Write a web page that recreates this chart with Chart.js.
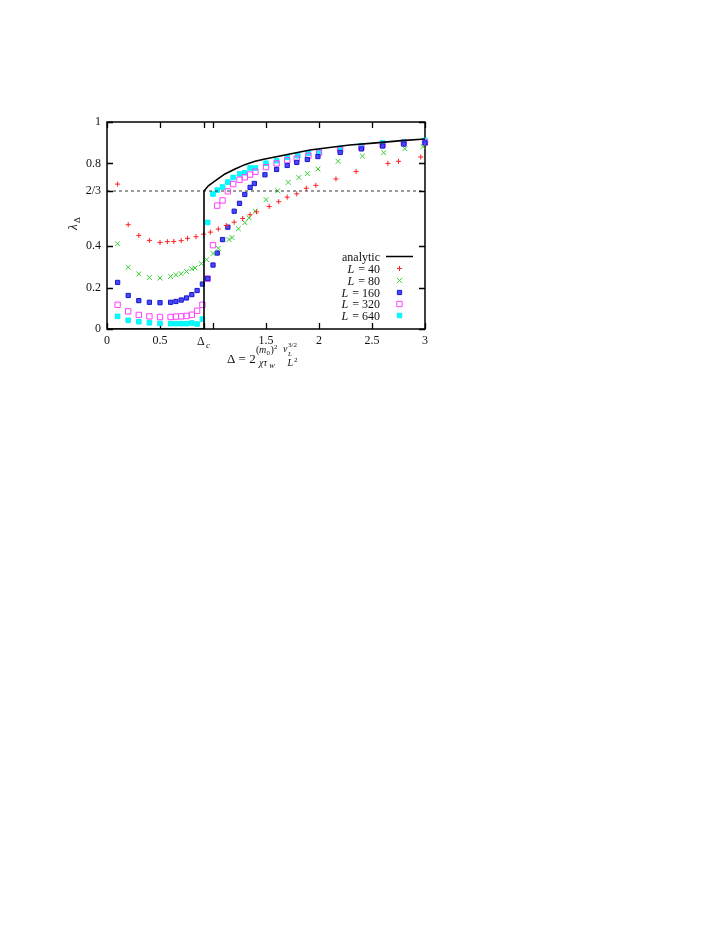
<!DOCTYPE html>
<html lang="en">
<head>
    <meta charset="UTF-8">
    <title>lambda vs Delta</title>
    <script src="https://cdn.jsdelivr.net/npm/chart.js"></script>
    <style>
        body { margin: 0; background: #fff; }
        canvas { display: block; }
    </style>
</head>
<body>
    <canvas id="grafico" width="723" height="935"></canvas>

<script>
    // valores
    const deltaC = 0.915;

    const xAnalytic = [0, 0.915, 0.915, 0.956, 1.02, 1.113, 1.208, 1.3, 1.396, 1.49, 1.585, 1.726, 1.915, 2.1, 2.29, 2.51, 2.78, 3.0];
    const yAnalytic = [0, 0, 0.667, 0.692, 0.716, 0.749, 0.773, 0.794, 0.81, 0.821, 0.831, 0.845, 0.865, 0.877, 0.889, 0.898, 0.91, 0.918];

    const x40 = [0.1, 0.2, 0.3, 0.4, 0.5, 0.57, 0.63, 0.7, 0.76, 0.84, 0.91, 0.975, 1.05, 1.125, 1.2, 1.28, 1.35, 1.41, 1.53, 1.62, 1.7, 1.79, 1.88, 1.97, 2.16, 2.35, 2.65, 2.75, 2.96];
    const y40 = [0.70, 0.504, 0.452, 0.428, 0.418, 0.422, 0.423, 0.427, 0.438, 0.446, 0.458, 0.468, 0.483, 0.50, 0.516, 0.534, 0.552, 0.566, 0.592, 0.615, 0.637, 0.653, 0.68, 0.694, 0.725, 0.761, 0.80, 0.81, 0.831];

    const x80 = [0.1, 0.2, 0.3, 0.4, 0.5, 0.6, 0.65, 0.7, 0.75, 0.8, 0.83, 0.89, 0.94, 1.0, 1.05, 1.15, 1.18, 1.24, 1.3, 1.34, 1.4, 1.5, 1.61, 1.71, 1.81, 1.89, 1.99, 2.18, 2.41, 2.61, 2.81, 2.98];
    const y80 = [0.412, 0.298, 0.266, 0.249, 0.246, 0.254, 0.262, 0.267, 0.278, 0.291, 0.295, 0.316, 0.335, 0.365, 0.39, 0.432, 0.442, 0.484, 0.514, 0.537, 0.569, 0.625, 0.668, 0.708, 0.732, 0.751, 0.773, 0.81, 0.835, 0.852, 0.871, 0.881];

    const x160 = [0.1, 0.2, 0.3, 0.4, 0.5, 0.6, 0.65, 0.7, 0.75, 0.8, 0.85, 0.9, 0.95, 1.0, 1.04, 1.09, 1.14, 1.2, 1.25, 1.3, 1.35, 1.39, 1.49, 1.6, 1.7, 1.79, 1.89, 1.99, 2.2, 2.4, 2.6, 2.8, 3.0];
    const y160 = [0.225, 0.162, 0.137, 0.129, 0.127, 0.129, 0.133, 0.14, 0.15, 0.166, 0.186, 0.217, 0.244, 0.309, 0.367, 0.432, 0.492, 0.569, 0.607, 0.65, 0.684, 0.703, 0.745, 0.771, 0.79, 0.805, 0.819, 0.833, 0.853, 0.87, 0.884, 0.893, 0.899];

    const x320 = [0.1, 0.2, 0.3, 0.4, 0.5, 0.6, 0.65, 0.7, 0.75, 0.8, 0.85, 0.9, 0.95, 1.0, 1.04, 1.09, 1.14, 1.19, 1.25, 1.3, 1.35, 1.4, 1.5, 1.6, 1.7, 1.79, 1.9, 2.0, 2.2, 2.4, 2.6, 2.8, 3.0];
    const y320 = [0.117, 0.085, 0.068, 0.061, 0.058, 0.058, 0.06, 0.061, 0.063, 0.069, 0.088, 0.117, 0.243, 0.405, 0.596, 0.621, 0.665, 0.70, 0.721, 0.733, 0.746, 0.76, 0.782, 0.80, 0.815, 0.823, 0.837, 0.852, 0.866, 0.877, 0.889, 0.90, 0.901];

    const x640 = [0.1, 0.2, 0.3, 0.4, 0.5, 0.6, 0.65, 0.7, 0.75, 0.8, 0.85, 0.9, 0.95, 1.0, 1.04, 1.09, 1.14, 1.19, 1.25, 1.3, 1.35, 1.4, 1.5, 1.6, 1.7, 1.8, 1.9, 2.0, 2.2, 2.4, 2.6, 2.8, 3.0];
    const y640 = [0.061, 0.042, 0.035, 0.03, 0.027, 0.026, 0.026, 0.026, 0.026, 0.029, 0.024, 0.048, 0.515, 0.652, 0.671, 0.686, 0.71, 0.732, 0.749, 0.755, 0.778, 0.778, 0.801, 0.813, 0.829, 0.837, 0.85, 0.857, 0.873, 0.886, 0.899, 0.905, 0.911];

    const xRef = [0, 3];
    const yRef = [2 / 3, 2 / 3];

    const xTicks = [0, 0.5, deltaC, 1, 1.5, 2, 2.5, 3];
    const xTickLabels = ['0', '0.5', '', '', '1.5', '2', '2.5', '3'];
    const yTicks = [0, 0.2, 0.4, 2 / 3, 0.8, 1];
    const yTickLabels = ['0', '0.2', '0.4', '2/3', '0.8', '1'];

    const legendLabels = ['40', '80', '160', '320', '640'];

    function pontos(xs, ys) {
        return xs.map((x, i) => ({ x: x, y: ys[i] }));
    }

    const fonte = '"Liberation Serif", "DejaVu Serif", serif';

    const series = [
        { data: pontos(x40, y40), pointStyle: 'cross', pointRadius: 2.5, borderColor: '#ff2020', backgroundColor: '#ff2020', pointBorderWidth: 1 },
        { data: pontos(x80, y80), pointStyle: 'crossRot', pointRadius: 3.4, borderColor: '#30d030', backgroundColor: '#30d030', pointBorderWidth: 1 },
        { data: pontos(x160, y160), pointStyle: 'rect', pointRadius: 3, borderColor: '#1818c8', backgroundColor: '#4848ff', pointBorderWidth: 1 },
        { data: pontos(x320, y320), pointStyle: 'rect', pointRadius: 3.8, borderColor: '#ff40ff', backgroundColor: 'rgba(0,0,0,0)', pointBorderWidth: 1 },
        { data: pontos(x640, y640), pointStyle: 'rect', pointRadius: 3.2, borderColor: '#00f0f8', backgroundColor: '#00ffff', pointBorderWidth: 1 }
    ];

    // moldura estilo gnuplot, com ticks para dentro
    const moldura = {
        id: 'moldura',
        beforeDatasetsDraw(chart) {
            const ctx = chart.ctx;
            const a = chart.chartArea;
            const sx = chart.scales.x;
            const sy = chart.scales.y;
            ctx.save();
            ctx.strokeStyle = '#000';
            ctx.lineWidth = 1.3;
            ctx.beginPath();
            xTicks.forEach(v => {
                const px = Math.round(sx.getPixelForValue(v)) + 0.5;
                ctx.moveTo(px, a.bottom); ctx.lineTo(px, a.bottom - 6);
                ctx.moveTo(px, a.top); ctx.lineTo(px, a.top + 6);
            });
            yTicks.forEach(v => {
                const py = Math.round(sy.getPixelForValue(v)) + 0.5;
                ctx.moveTo(a.left, py); ctx.lineTo(a.left + 6, py);
                ctx.moveTo(a.right, py); ctx.lineTo(a.right - 6, py);
            });
            ctx.stroke();
            ctx.lineWidth = 1.5;
            ctx.strokeRect(a.left, a.top, a.right - a.left, a.bottom - a.top);
            ctx.restore();
        },
        afterDraw(chart) {
            const ctx = chart.ctx;
            const sx = chart.scales.x;
            ctx.save();
            ctx.fillStyle = '#111';
            ctx.textBaseline = 'alphabetic';
            ctx.textAlign = 'left';

            // rotulo Delta_c no eixo x
            const xc = sx.getPixelForValue(deltaC);
            ctx.font = '12px ' + fonte;
            ctx.fillText('Δ', xc - 7, 345);
            ctx.font = 'italic 9px ' + fonte;
            ctx.fillText('c', xc + 2, 348);

            // titulo do eixo x
            ctx.font = '13px ' + fonte;
            ctx.fillText('Δ = 2', 227, 363);
            ctx.font = '10px ' + fonte;
            ctx.fillText('(', 256, 353);
            ctx.font = 'italic 10px ' + fonte;
            ctx.fillText('m', 259, 353);
            ctx.font = '7px ' + fonte;
            ctx.fillText('0', 266.5, 355);
            ctx.font = '10px ' + fonte;
            ctx.fillText(')', 270.5, 353);
            ctx.font = '7px ' + fonte;
            ctx.fillText('2', 274, 349);
            ctx.font = 'italic 10px ' + fonte;
            ctx.fillText('χτ', 259, 366);
            ctx.font = 'italic 7px ' + fonte;
            ctx.fillText('W', 269, 367.5);
            ctx.font = 'italic 10px ' + fonte;
            ctx.fillText('v', 283, 352);
            ctx.font = 'italic 7px ' + fonte;
            ctx.fillText('L', 288, 356);
            ctx.font = '7px ' + fonte;
            ctx.fillText('3/2', 288, 347);
            ctx.font = 'italic 10px ' + fonte;
            ctx.fillText('L', 287.5, 366);
            ctx.font = '7px ' + fonte;
            ctx.fillText('2', 294, 362);

            // titulo do eixo y
            ctx.translate(77, 230);
            ctx.rotate(-Math.PI / 2);
            ctx.font = 'italic 13px ' + fonte;
            ctx.fillText('λ', 0, 0);
            ctx.font = '9px ' + fonte;
            ctx.fillText('Δ', 7, 3);
            ctx.restore();

            // legenda
            ctx.save();
            ctx.fillStyle = '#111';
            ctx.textAlign = 'right';
            const linhas = [256.5, 268.5, 280.5, 292.5, 304, 315.5];
            ctx.font = '12px ' + fonte;
            ctx.fillText('analytic', 380, linhas[0] + 4);
            ctx.strokeStyle = '#000';
            ctx.lineWidth = 1.5;
            ctx.beginPath();
            ctx.moveTo(386, linhas[0]); ctx.lineTo(413, linhas[0]);
            ctx.stroke();
            legendLabels.forEach((txt, i) => {
                const y = linhas[i + 1];
                ctx.font = '12px ' + fonte;
                ctx.fillText('= ' + txt, 380, y + 4);
                const w = ctx.measureText('= ' + txt).width;
                ctx.font = 'italic 12px ' + fonte;
                ctx.fillText('L ', 380 - w - 1, y + 4);

                const s = series[i];
                ctx.save();
                ctx.strokeStyle = s.borderColor;
                ctx.fillStyle = s.backgroundColor;
                ctx.lineWidth = s.pointBorderWidth;
                Chart.helpers.drawPoint(ctx, {
                    pointStyle: s.pointStyle,
                    radius: s.pointRadius,
                    borderWidth: s.pointBorderWidth,
                    rotation: 0
                }, 399.5, y);
                ctx.restore();
            });
            ctx.restore();
        }
    };

    const ctx = document.getElementById('grafico').getContext('2d');
    new Chart(ctx, {
        type: 'scatter',
        data: {
            datasets: [
                {
                    label: 'ref',
                    data: pontos(xRef, yRef),
                    showLine: true,
                    borderColor: '#000',
                    borderWidth: 0.8,
                    borderDash: [3, 3],
                    pointRadius: 0
                },
                {
                    label: 'analytic',
                    data: pontos(xAnalytic, yAnalytic),
                    showLine: true,
                    borderColor: '#000',
                    borderWidth: 1.6,
                    pointRadius: 0,
                    tension: 0
                },
                ...series.map((s, i) => ({
                    label: 'L = ' + legendLabels[i],
                    data: s.data,
                    pointStyle: s.pointStyle,
                    pointRadius: s.pointRadius,
                    pointBorderColor: s.borderColor,
                    pointBackgroundColor: s.backgroundColor,
                    pointBorderWidth: s.pointBorderWidth,
                    showLine: false,
                    clip: false
                }))
            ]
        },
        options: {
            responsive: false,
            animation: false,
            layout: { padding: { top: 122, right: 298, bottom: 0, left: 0 } },
            plugins: {
                legend: { display: false },
                tooltip: { enabled: false }
            },
            scales: {
                x: {
                    type: 'linear',
                    min: 0,
                    max: 3,
                    afterFit(scale) { scale.height = 606; },
                    afterBuildTicks(scale) { scale.ticks = xTicks.map(v => ({ value: v })); },
                    grid: { display: false, drawTicks: false },
                    border: { display: false },
                    ticks: {
                        autoSkip: false,
                        maxRotation: 0,
                        padding: 5,
                        color: '#111',
                        font: { family: fonte, size: 12 },
                        callback: (v, i) => xTickLabels[i]
                    }
                },
                y: {
                    type: 'linear',
                    min: 0,
                    max: 1,
                    afterFit(scale) { scale.width = 107; },
                    afterBuildTicks(scale) { scale.ticks = yTicks.map(v => ({ value: v })); },
                    grid: { display: false, drawTicks: false },
                    border: { display: false },
                    ticks: {
                        autoSkip: false,
                        padding: 6,
                        color: '#111',
                        font: { family: fonte, size: 12 },
                        callback: (v, i) => yTickLabels[i]
                    }
                }
            }
        },
        plugins: [moldura]
    });
</script>
</body>
</html>
